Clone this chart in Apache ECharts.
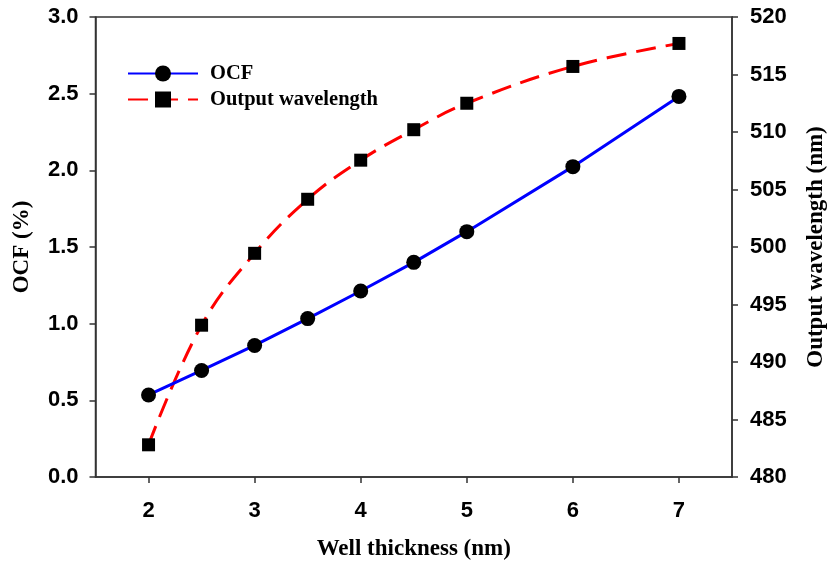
<!DOCTYPE html>
<html>
<head>
<meta charset="utf-8">
<script src="https://cdn.jsdelivr.net/npm/echarts@6/dist/echarts.min.js"></script>
<style>
  html, body { margin: 0; padding: 0; background: #ffffff; }
  #chart { width: 827px; height: 564px; }
</style>
</head>
<body>
<div id="chart"></div>
<script>
// Well thickness (nm) for each measurement
const thickness = [2, 2.5, 3, 3.5, 4, 4.5, 5, 6, 7];
// Optical confinement factor (%)
const ocf = [0.535, 0.695, 0.858, 1.033, 1.213, 1.400, 1.600, 2.024, 2.482];
// Output wavelength (nm)
const wavelength = [482.8, 493.2, 499.45, 504.15, 507.55, 510.2, 512.5, 515.7, 517.7];
// Tick labels on the thickness axis
const xTicks = [2, 3, 4, 5, 6, 7];

const serifBold = { fontFamily: 'Liberation Serif, Times New Roman, serif', fontWeight: 'bold', color: '#000' };
const sansBold = { fontFamily: 'Liberation Sans, Arial, sans-serif', fontWeight: 'bold', color: '#000', fontSize: 22 };
const axisLine = { show: true, lineStyle: { color: '#333', width: 1.5 } };
const axisTick = { show: true, inside: false, length: 6, lineStyle: { color: '#333', width: 1.5 } };

const chart = echarts.init(document.getElementById('chart'));
chart.setOption({
  animation: false,
  backgroundColor: '#ffffff',
  grid: {
    left: 95.5, right: 95, top: 17, bottom: 87,
    outerBoundsMode: 'none', containLabel: false,
    show: true, borderColor: '#333', borderWidth: 1.5, backgroundColor: 'transparent'
  },
  legend: {
    orient: 'vertical',
    left: 122, top: 58,
    itemWidth: 70, itemHeight: 20, itemGap: 5,
    textStyle: Object.assign({ fontSize: 20.5, padding: [0, 0, 0, 7] }, serifBold),
    data: ['OCF', 'Output wavelength']
  },
  xAxis: {
    type: 'value',
    min: 1.5, max: 7.5,
    name: 'Well thickness (nm)',
    nameLocation: 'middle', nameGap: 61,
    nameTextStyle: Object.assign({ fontSize: 23 }, serifBold),
    axisLine: axisLine,
    axisTick: Object.assign({ customValues: xTicks }, axisTick),
    axisLabel: Object.assign({ customValues: xTicks, margin: 23 }, sansBold),
    splitLine: { show: false }
  },
  yAxis: [
    {
      type: 'value', position: 'left',
      min: 0, max: 3, interval: 0.5,
      name: 'OCF (%)', nameLocation: 'middle', nameGap: 62, nameRotate: 90,
      nameTextStyle: Object.assign({ fontSize: 23 }, serifBold),
      axisLine: axisLine, axisTick: axisTick,
      axisLabel: Object.assign({ margin: 17, formatter: v => v.toFixed(1) }, sansBold),
      splitLine: { show: false }
    },
    {
      type: 'value', position: 'right',
      min: 480, max: 520, interval: 5,
      name: 'Output wavelength (nm)', nameLocation: 'middle', nameGap: 73, nameRotate: 90,
      nameTextStyle: Object.assign({ fontSize: 23 }, serifBold),
      axisLine: axisLine, axisTick: axisTick,
      axisLabel: Object.assign({ margin: 18 }, sansBold),
      splitLine: { show: false }
    }
  ],
  series: [
    {
      name: 'OCF', type: 'line', yAxisIndex: 0,
      data: thickness.map((x, i) => [x, ocf[i]]),
      symbol: 'circle', symbolSize: 15,
      itemStyle: { color: '#000' },
      lineStyle: { color: '#0000ff', width: 3 },
      z: 3
    },
    {
      name: 'Output wavelength', type: 'line', yAxisIndex: 1,
      data: thickness.map((x, i) => [x, wavelength[i]]),
      smooth: 0.4,
      symbol: 'rect', symbolSize: 13,
      itemStyle: { color: '#000' },
      lineStyle: { color: '#ff0000', width: 3, type: [20, 10] },
      z: 2
    }
  ]
});
</script>
</body>
</html>
